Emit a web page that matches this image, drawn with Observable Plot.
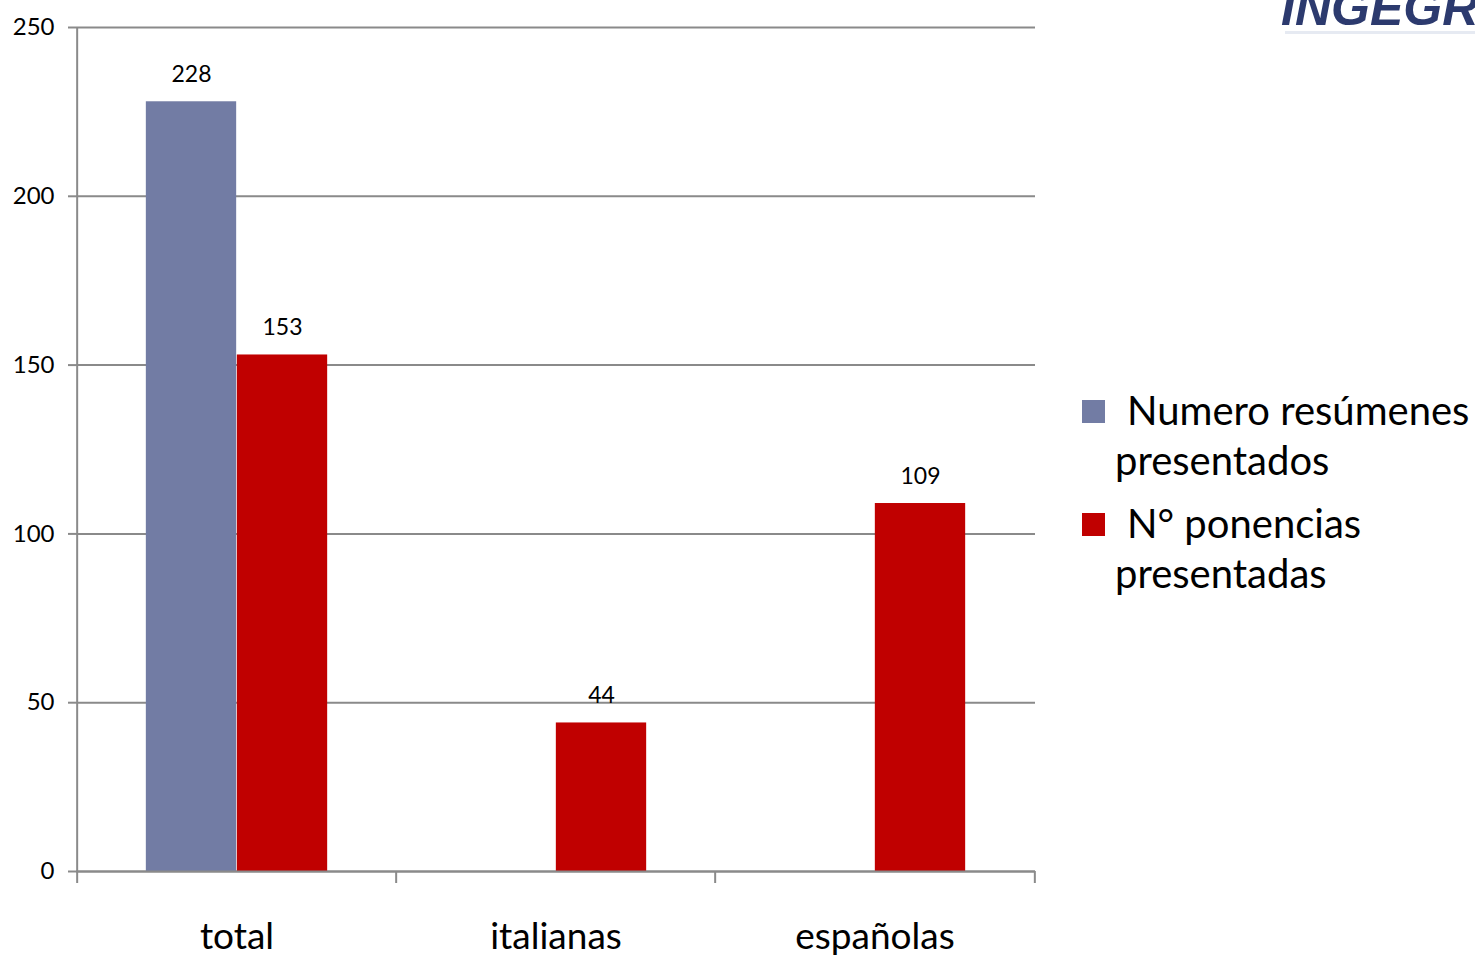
<!DOCTYPE html>
<html><head><meta charset="utf-8">
<script src="https://cdn.jsdelivr.net/npm/d3@7"></script>
<script src="https://cdn.jsdelivr.net/npm/@observablehq/plot@0.6"></script>
<style>
body{margin:0;background:#fff;width:1475px;height:959px;overflow:hidden;position:relative;font-family:Lato,"Open Sans",sans-serif;}
#chart{position:absolute;left:0;top:0}
.leg{position:absolute;font-size:40px;color:#000;line-height:1;white-space:nowrap}
.sw{position:absolute;width:23px;height:23px}
#logo{position:absolute;left:1281px;top:-17px;font:italic bold 50px "Liberation Sans",sans-serif;color:#2c3a6e;white-space:nowrap;line-height:1}
#logoline{position:absolute;left:1285px;top:31px;width:190px;height:3px;background:#e6eaf2}
</style></head><body>
<div id="chart"></div>
<div id="legend"></div>
<div id="logo">INGEGR</div>
<div id="logoline"></div>
<script>
// ---- data ----
const categories = ["total", "italianas", "españolas"];
const seriesNames = ["Numero resúmenes presentados", "N° ponencias presentadas"];
const resumenes = [228, null, null];
const ponencias = [153, 44, 109];
const yTicks = [0, 50, 100, 150, 200, 250];
const colors = ["#727ca4", "#c00000"];
const legendLines = [["Numero resúmenes", "presentados"], ["N° ponencias", "presentadas"]];

const rowsA = [], rowsB = [];
categories.forEach((c, i) => {
  if (resumenes[i] != null) rowsA.push({cat: c, series: seriesNames[0], value: resumenes[i]});
  if (ponencias[i] != null) rowsB.push({cat: c, series: seriesNames[1], value: ponencias[i]});
});

// ---- layout ----
const W = 1475, H = 959, mL = 76, mR = 440, mT = 27, mB = 88;
const bw = (W - mL - mR) / categories.length;
const barW = 91;
const gap = bw / 2 - barW;
const gridColor = "#8a8a8a";

const chart = Plot.plot({
  width: W, height: H,
  marginLeft: mL, marginRight: mR, marginTop: mT, marginBottom: mB,
  style: {fontFamily: "Lato, 'Open Sans', sans-serif", color: "#000", background: "transparent", overflow: "visible"},
  x: {type: "band", domain: categories, padding: 0, axis: null, label: null},
  y: {domain: [0, 250], axis: null, label: null},
  color: {domain: seriesNames, range: colors},
  marks: [
    Plot.gridY(yTicks, {stroke: gridColor, strokeOpacity: 1, strokeWidth: 2}),
    Plot.axisY(yTicks, {tickSize: 8, tickPadding: 14, fontSize: 24, stroke: gridColor, strokeWidth: 2, label: null}),
    Plot.ruleX([categories[0]], {x: d => d, dx: -bw / 2, stroke: gridColor, strokeWidth: 2}),
    Plot.axisX({tickSize: 12, tickFormat: () => "", dx: -bw / 2, stroke: gridColor, strokeWidth: 2, label: null}),
    Plot.axisX([categories[categories.length - 1]], {tickSize: 12, tickFormat: () => "", dx: bw / 2, stroke: gridColor, strokeWidth: 2, label: null}),
    Plot.barY(rowsA, {x: "cat", y: "value", fill: "series", insetLeft: gap, insetRight: bw / 2}),
    Plot.barY(rowsB, {x: "cat", y: "value", fill: "series", insetLeft: bw / 2, insetRight: gap}),
    Plot.ruleY([0], {stroke: gridColor, strokeWidth: 2}),
    Plot.text(rowsA, {x: "cat", y: "value", text: d => String(d.value), dx: -barW / 2, dy: -27, fontSize: 23, fill: "#000"}),
    Plot.text(rowsB, {x: "cat", y: "value", text: d => String(d.value), dx: barW / 2, dy: -27, fontSize: 23, fill: "#000"}),
    Plot.axisX({tickSize: 0, tickPadding: 51, fontSize: 37, fill: "#000", label: null})
  ]
});
document.getElementById("chart").appendChild(chart);

// ---- legend (HTML) ----
const leg = document.getElementById("legend");
const itemTops = [400, 513];
legendLines.forEach((lines, i) => {
  const sw = document.createElement("div");
  sw.className = "sw";
  sw.style.left = "1082px";
  sw.style.top = itemTops[i] + "px";
  sw.style.background = colors[i];
  leg.appendChild(sw);
  lines.forEach((t, j) => {
    const d = document.createElement("div");
    d.className = "leg";
    d.textContent = t;
    d.style.left = (j === 0 ? 1127 : 1115) + "px";
    d.style.top = (itemTops[i] - 10 + j * 50) + "px";
    leg.appendChild(d);
  });
});
</script>
</body></html>
